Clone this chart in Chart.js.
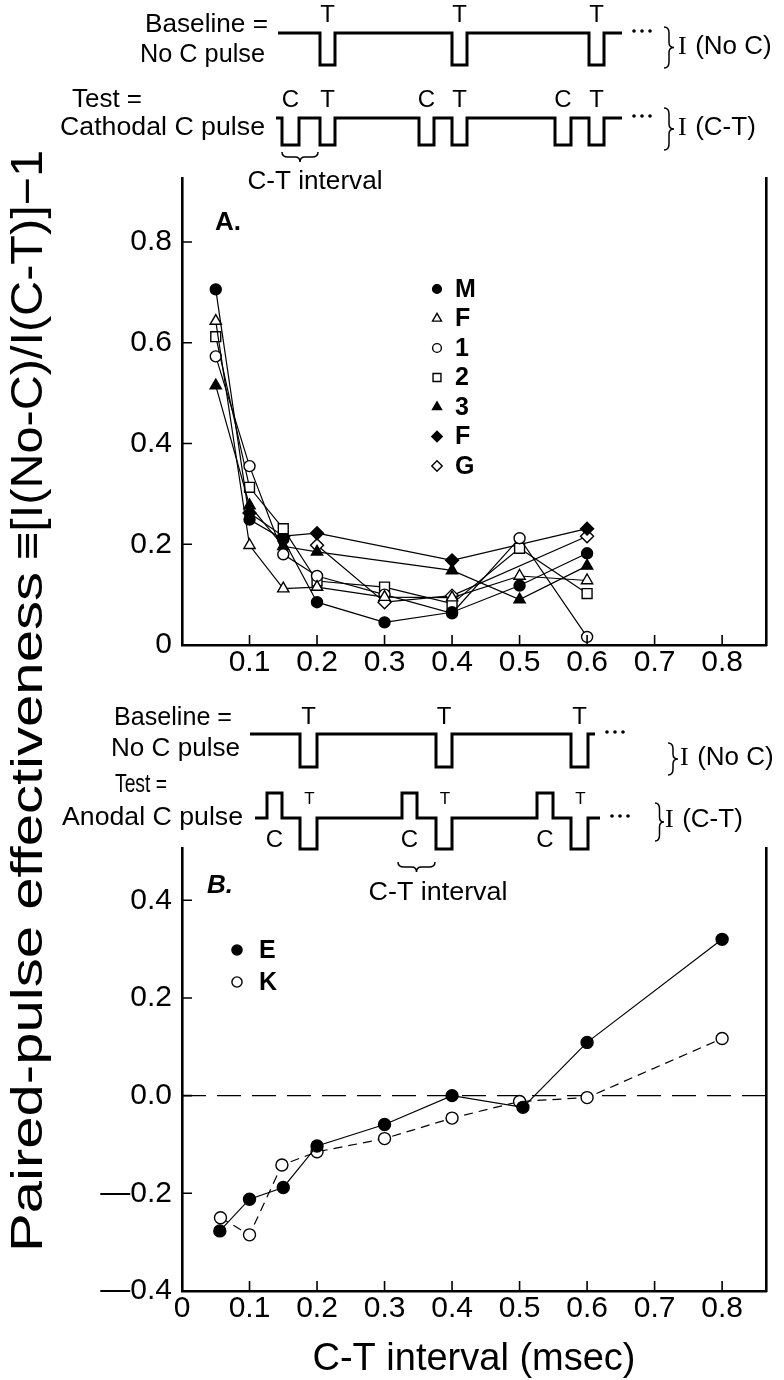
<!DOCTYPE html>
<html>
<head>
<meta charset="utf-8">
<title>Paired-pulse effectiveness</title>
<script src="https://cdn.jsdelivr.net/npm/chart.js@4.4.1/dist/chart.umd.min.js"></script>
<style>
  html, body { margin: 0; padding: 0; background: #fff; }
  #page { position: relative; width: 784px; height: 1380px; overflow: hidden; background: #fff; }
  #page canvas { position: absolute; left: 0; }
  #chartA { top: 150px; }
  #chartB { top: 820px; }
  #overlay { top: 0; pointer-events: none; }
</style>
</head>
<body>
<div id="page">
  <canvas id="chartA" width="784" height="530" style="width:784px;height:530px"></canvas>
  <canvas id="chartB" width="784" height="560" style="width:784px;height:560px"></canvas>
  <canvas id="overlay" width="784" height="1380" style="width:784px;height:1380px"></canvas>
</div>
<script>
// ---- panel A: cathodal conditioning pulse ----
const ctIntervalA = [0.05, 0.1, 0.15, 0.2, 0.3, 0.4, 0.5, 0.6];
const subjM  = [0.706, 0.249, 0.21, 0.085, 0.045, 0.065, 0.118, 0.182];
const subjF  = [0.643, 0.198, 0.112, 0.115, 0.095, 0.094, 0.137, 0.128];
const subj1  = [0.573, 0.355, 0.18, 0.137, 0.1, 0.063, 0.212, 0.016];
const subj2  = [0.612, 0.313, 0.231, 0.127, 0.115, 0.082, 0.192, 0.102];
const subj3  = [0.515, 0.277, 0.196, 0.185, null, 0.148, 0.09, 0.157];
const subjFd = [null, 0.262, 0.216, 0.222, null, 0.168, null, 0.231];
const subjG  = [null, null, null, 0.198, 0.085, 0.098, null, 0.216];

// ---- panel B: anodal conditioning pulse ----
const ctIntervalE = [0.056, 0.1, 0.15, 0.2, 0.3, 0.4, 0.505, 0.6, 0.8];
const ctIntervalK = [0.057, 0.1, 0.148, 0.2, 0.3, 0.4, 0.5, 0.6, 0.8];
const subjE = [-0.277, -0.212, -0.188, -0.103, -0.059, 0.0, -0.024, 0.109, 0.32];
const subjK = [-0.25, -0.285, -0.142, -0.115, -0.088, -0.046, -0.012, -0.004, 0.117];
const zeroLineX = [0, 0.865];
const zeroLineY = [0, 0];

// ---- ticks ----
const xTicksA = [0.1, 0.2, 0.3, 0.4, 0.5, 0.6, 0.7, 0.8];
const xTickLabelsA = ['0.1', '0.2', '0.3', '0.4', '0.5', '0.6', '0.7', '0.8'];
const yTicksA = [0, 0.2, 0.4, 0.6, 0.8];
const yTickLabelsA = ['0', '0.2', '0.4', '0.6', '0.8'];
const xTicksB = [0, 0.1, 0.2, 0.3, 0.4, 0.5, 0.6, 0.7, 0.8];
const xTickLabelsB = ['0', '0.1', '0.2', '0.3', '0.4', '0.5', '0.6', '0.7', '0.8'];
const yTicksB = [-0.4, -0.2, 0, 0.2, 0.4];
const yTickLabelsB = ['\u20140.4', '\u20140.2', '0.0', '0.2', '0.4'];

const SANS = "'Liberation Sans', Arial, Helvetica, sans-serif";
const SERIF = "'Liberation Serif', 'Times New Roman', serif";
const tickFont = { family: SANS, size: 30 };

function series(label, xs, ys, style, filled, radius, dash) {
  return {
    label,
    data: xs.map((x, i) => ({ x, y: ys[i] })),
    pointStyle: style,
    pointRadius: radius,
    pointHoverRadius: radius,
    pointBackgroundColor: filled ? '#000' : '#fff',
    pointBorderColor: '#000',
    pointBorderWidth: 1.4,
    borderColor: '#000',
    borderWidth: 1.2,
    borderDash: dash || [],
    showLine: true,
    fill: false,
    tension: 0,
    spanGaps: true
  };
}

// small marker for the in-plot key
function drawMarker(ctx, ds, x, y, scale) {
  const r = ds.pointRadius * scale;
  ctx.save();
  ctx.fillStyle = ds.pointBackgroundColor;
  ctx.strokeStyle = '#000';
  ctx.lineWidth = 1.4;
  ctx.beginPath();
  if (ds.pointStyle === 'circle') {
    ctx.arc(x, y, r, 0, Math.PI * 2);
  } else if (ds.pointStyle === 'triangle') {
    ctx.moveTo(x, y - r);
    ctx.lineTo(x + r * 0.866, y + r * 0.5);
    ctx.lineTo(x - r * 0.866, y + r * 0.5);
    ctx.closePath();
  } else if (ds.pointStyle === 'rect') {
    const s = r * Math.SQRT1_2;
    ctx.rect(x - s, y - s, 2 * s, 2 * s);
  } else if (ds.pointStyle === 'rectRot') {
    ctx.moveTo(x - r, y); ctx.lineTo(x, y - r); ctx.lineTo(x + r, y); ctx.lineTo(x, y + r);
    ctx.closePath();
  }
  ctx.fill();
  ctx.stroke();
  ctx.restore();
}

// ticks point into the plot, legend and panel letter sit inside it
const panelDecor = {
  id: 'panelDecor',
  afterDraw(chart, args, o) {
    const { ctx, chartArea } = chart;
    const xs = chart.scales.x, ys = chart.scales.y;
    ctx.save();
    ctx.strokeStyle = '#000';
    ctx.lineWidth = 1.6;
    ctx.beginPath();
    xs.ticks.forEach(t => {
      if (t.value <= xs.min) return;
      const px = xs.getPixelForValue(t.value);
      ctx.moveTo(px, chartArea.bottom);
      ctx.lineTo(px, chartArea.bottom - o.tickLen);
    });
    ys.ticks.forEach(t => {
      if (t.value <= ys.min) return;
      const py = ys.getPixelForValue(t.value);
      ctx.moveTo(chartArea.left, py);
      ctx.lineTo(chartArea.left + o.tickLen, py);
    });
    ctx.stroke();

    ctx.fillStyle = '#000';
    ctx.textBaseline = 'middle';
    ctx.textAlign = 'left';
    ctx.font = o.letterFont;
    ctx.fillText(o.letter, chartArea.left + o.letterDx, chartArea.top + o.letterDy);

    ctx.font = o.keyFont;
    chart.data.datasets.forEach((ds, i) => {
      if (!o.keyLabels[i]) return;
      const ky = chartArea.top + o.keyDy + i * o.keyStep;
      const kx = chartArea.left + o.keyDx;
      drawMarker(ctx, ds, kx, ky, o.keyScale);
      ctx.fillText(o.keyLabels[i], kx + o.keyGap, ky + 1);
    });
    ctx.restore();
  }
};

function axes(xMin, xMax, yMin, yMax, xT, xL, yT, yL, xHeight, xTitle) {
  return {
    x: {
      type: 'linear', min: xMin, max: xMax,
      afterBuildTicks: s => { s.ticks = xT.map(v => ({ value: v })); },
      afterFit: s => { s.height = xHeight; },
      ticks: { callback: (v, i) => xL[i], font: tickFont, color: '#000', padding: 0, maxRotation: 0, autoSkip: false },
      grid: { display: false, drawTicks: false },
      border: { color: '#000', width: 2.6 },
      title: xTitle ? {
        display: true, text: xTitle, color: '#000',
        font: { family: SANS, size: 38, lineHeight: 1 },
        padding: { top: 0, bottom: 1 }
      } : { display: false }
    },
    y: {
      type: 'linear', min: yMin, max: yMax,
      afterBuildTicks: s => { s.ticks = yT.map(v => ({ value: v })); },
      afterFit: s => { s.width = 182; },
      ticks: { callback: (v, i) => yL[i], font: tickFont, color: '#000', padding: 10 },
      grid: { display: false, drawTicks: false },
      border: { color: '#000', width: 2.6 }
    },
    y2: {
      position: 'right', display: true,
      afterFit: s => { s.width = 0; },
      ticks: { display: false },
      grid: { display: false, drawTicks: false },
      border: { color: '#000', width: 2.6 }
    }
  };
}

Chart.defaults.animation = false;

new Chart(document.getElementById('chartA'), {
  type: 'line',
  data: {
    datasets: [
      series('M', ctIntervalA, subjM, 'circle', true, 5.5),
      series('F', ctIntervalA, subjF, 'triangle', false, 6.5),
      series('1', ctIntervalA, subj1, 'circle', false, 5.5),
      series('2', ctIntervalA, subj2, 'rect', false, 7),
      series('3', ctIntervalA, subj3, 'triangle', true, 6.5),
      series('F', ctIntervalA, subjFd, 'rectRot', true, 6.5),
      series('G', ctIntervalA, subjG, 'rectRot', false, 6.5)
    ]
  },
  options: {
    responsive: false,
    layout: { padding: { top: 22, right: 18, left: 0, bottom: 0 } },
    plugins: {
      legend: { display: false }, tooltip: { enabled: false },
      panelDecor: {
        tickLen: 10, letter: 'A.', letterFont: 'bold 26px ' + SANS, letterDx: 33, letterDy: 45,
        keyLabels: ['M', 'F', '1', '2', '3', 'F', 'G'], keyFont: 'bold 25px ' + SANS,
        keyDx: 255, keyDy: 111, keyStep: 29.5, keyGap: 18, keyScale: 0.8
      }
    },
    scales: axes(0, 0.865, 0, 0.927, xTicksA, xTickLabelsA, yTicksA, yTickLabelsA, 35, null)
  },
  plugins: [panelDecor]
});

new Chart(document.getElementById('chartB'), {
  type: 'line',
  data: {
    datasets: [
      series('E', ctIntervalE, subjE, 'circle', true, 6),
      series('K', ctIntervalK, subjK, 'circle', false, 6, [9, 6]),
      Object.assign(series('', zeroLineX, zeroLineY, 'circle', false, 0, [24, 11]), { borderWidth: 1.3 })
    ]
  },
  options: {
    responsive: false,
    layout: { padding: { top: 13, right: 18, left: 0, bottom: 0 } },
    plugins: {
      legend: { display: false }, tooltip: { enabled: false },
      panelDecor: {
        tickLen: 10, letter: 'B.', letterFont: 'italic bold 26px ' + SANS, letterDx: 25, letterDy: 38,
        keyLabels: ['E', 'K'], keyFont: 'bold 25px ' + SANS,
        keyDx: 55, keyDy: 102, keyStep: 32, keyGap: 22, keyScale: 0.85
      }
    },
    scales: axes(0, 0.865, -0.4, 0.507, xTicksB, xTickLabelsB, yTicksB, yTickLabelsB, 89, 'C-T interval (msec)')
  },
  plugins: [panelDecor]
});

// ---- stimulus schematics and shared y title ----
const ov = document.getElementById('overlay').getContext('2d');

function pulseTrain(ctx, x0, x1, yBase, pulses) {
  ctx.beginPath();
  ctx.moveTo(x0, yBase);
  pulses.forEach(([a, b, yp]) => {
    ctx.lineTo(a, yBase); ctx.lineTo(a, yp); ctx.lineTo(b, yp); ctx.lineTo(b, yBase);
  });
  ctx.lineTo(x1, yBase);
  ctx.stroke();
}

function dots(ctx, x, y) {
  for (let i = 0; i < 3; i++) {
    ctx.beginPath(); ctx.arc(x + i * 8, y, 1.8, 0, Math.PI * 2); ctx.fill();
  }
}

function braceV(ctx, x, y0, y1, w) {
  const ym = (y0 + y1) / 2, xc = x + w / 2;
  ctx.beginPath();
  ctx.moveTo(x, y0);
  ctx.quadraticCurveTo(xc, y0, xc, y0 + 6);
  ctx.lineTo(xc, ym - 5);
  ctx.quadraticCurveTo(xc, ym, x + w, ym);
  ctx.quadraticCurveTo(xc, ym, xc, ym + 5);
  ctx.lineTo(xc, y1 - 6);
  ctx.quadraticCurveTo(xc, y1, x, y1);
  ctx.stroke();
}

function braceH(ctx, x0, x1, y, h) {
  const xm = (x0 + x1) / 2, yc = y + h / 2;
  ctx.beginPath();
  ctx.moveTo(x0, y);
  ctx.quadraticCurveTo(x0, yc, x0 + 6, yc);
  ctx.lineTo(xm - 5, yc);
  ctx.quadraticCurveTo(xm, yc, xm, y + h);
  ctx.quadraticCurveTo(xm, yc, xm + 5, yc);
  ctx.lineTo(x1 - 6, yc);
  ctx.quadraticCurveTo(x1, yc, x1, y);
  ctx.stroke();
}

function label(ctx, str, x, y, size, align, width) {
  ctx.save();
  ctx.font = size + 'px ' + SANS;
  ctx.textAlign = 'left';
  ctx.textBaseline = 'middle';
  const w = ctx.measureText(str).width;
  const k = width ? width / w : 1;
  const left = align === 'right' ? x - w * k : align === 'center' ? x - w * k / 2 : x;
  ctx.translate(left, y);
  ctx.scale(k, 1);
  ctx.fillText(str, 0, 0);
  ctx.restore();
}

// current label with a serif "I"
function currentLabel(ctx, rest, x, y, size) {
  ctx.save();
  ctx.textBaseline = 'middle';
  ctx.textAlign = 'left';
  ctx.font = size + 'px ' + SERIF;
  ctx.fillText('I', x, y);
  const w = ctx.measureText('I ').width;
  ctx.font = size + 'px ' + SANS;
  ctx.fillText(rest, x + w + 2, y);
  ctx.restore();
}

ov.strokeStyle = '#000';
ov.fillStyle = '#000';
ov.lineJoin = 'miter';
ov.lineCap = 'butt';

// A: baseline and cathodal test trains
const tA = [[320, 335], [452, 467], [589, 604]];
const cA = [[282, 299], [419, 434], [555, 571]];
ov.lineWidth = 3;
pulseTrain(ov, 278, 622, 33, tA.map(([a, b]) => [a, b, 65]));
const trainA = [];
cA.forEach((c, i) => { trainA.push([c[0], c[1], 145]); trainA.push([tA[i][0], tA[i][1], 145]); });
pulseTrain(ov, 276, 622, 118, trainA);
dots(ov, 634, 31);
dots(ov, 634, 116);
ov.lineWidth = 1.5;
braceV(ov, 664, 27, 68, 10);
braceV(ov, 664, 108, 150, 10);
braceH(ov, 282, 318, 152, 10);
tA.forEach(([a, b]) => { label(ov, 'T', (a + b) / 2, 15, 24, 'center'); label(ov, 'T', (a + b) / 2, 100, 24, 'center'); });
cA.forEach(([a, b]) => label(ov, 'C', (a + b) / 2, 100, 24, 'center'));
label(ov, 'Baseline =', 268, 25, 26, 'right', 123);
label(ov, 'No C pulse', 265, 55, 26, 'right', 125);
label(ov, 'Test =', 72, 100, 26, 'left', 70);
label(ov, 'Cathodal C pulse', 265, 128, 26, 'right', 205);
label(ov, 'C-T interval', 315, 182, 26, 'center', 135);
currentLabel(ov, '(No C)', 678, 47, 26);
currentLabel(ov, '(C-T)', 678, 128, 26);

// B: baseline and anodal test trains
const tB = [[300, 317], [436, 452], [571, 588]];
const cB = [[267, 282], [402, 417], [537, 553]];
ov.lineWidth = 3;
pulseTrain(ov, 250, 595, 734, tB.map(([a, b]) => [a, b, 767]));
const trainB = [];
cB.forEach((c, i) => { trainB.push([c[0], c[1], 793]); trainB.push([tB[i][0], tB[i][1], 849]); });
pulseTrain(ov, 255, 600, 818, trainB);
dots(ov, 607, 732);
dots(ov, 612, 816);
ov.lineWidth = 1.5;
braceV(ov, 668, 743, 775, 10);
braceV(ov, 655, 803, 841, 9);
braceH(ov, 398, 435, 862, 10);
tB.forEach(([a, b]) => { label(ov, 'T', (a + b) / 2, 717, 24, 'center'); label(ov, 'T', (a + b) / 2 + 1, 799, 17, 'center'); });
cB.forEach(([a, b]) => label(ov, 'C', (a + b) / 2, 840, 24, 'center'));
label(ov, 'Baseline =', 232, 718, 26, 'right', 118);
label(ov, 'No C pulse', 240, 749, 26, 'right', 129);
label(ov, 'Test =', 115, 785, 26, 'left', 52);
label(ov, 'Anodal C pulse', 243, 818, 26, 'right', 181);
label(ov, 'C-T interval', 438, 893, 26, 'center', 139);
currentLabel(ov, '(No C)', 680, 758, 26);
currentLabel(ov, '(C-T)', 665, 820, 26);

// shared y-axis title, rotated; the two halves are set to their own lengths
ov.save();
ov.translate(30, 1252);
ov.rotate(-Math.PI / 2);
label(ov, 'Paired-pulse effectiveness', 0, 0, 44, 'left', 680);
label(ov, '\u2261[I(No-C)/I(C-T)]\u22121', 692, 0, 44, 'left', 410);
ov.restore();
</script>
</body>
</html>
